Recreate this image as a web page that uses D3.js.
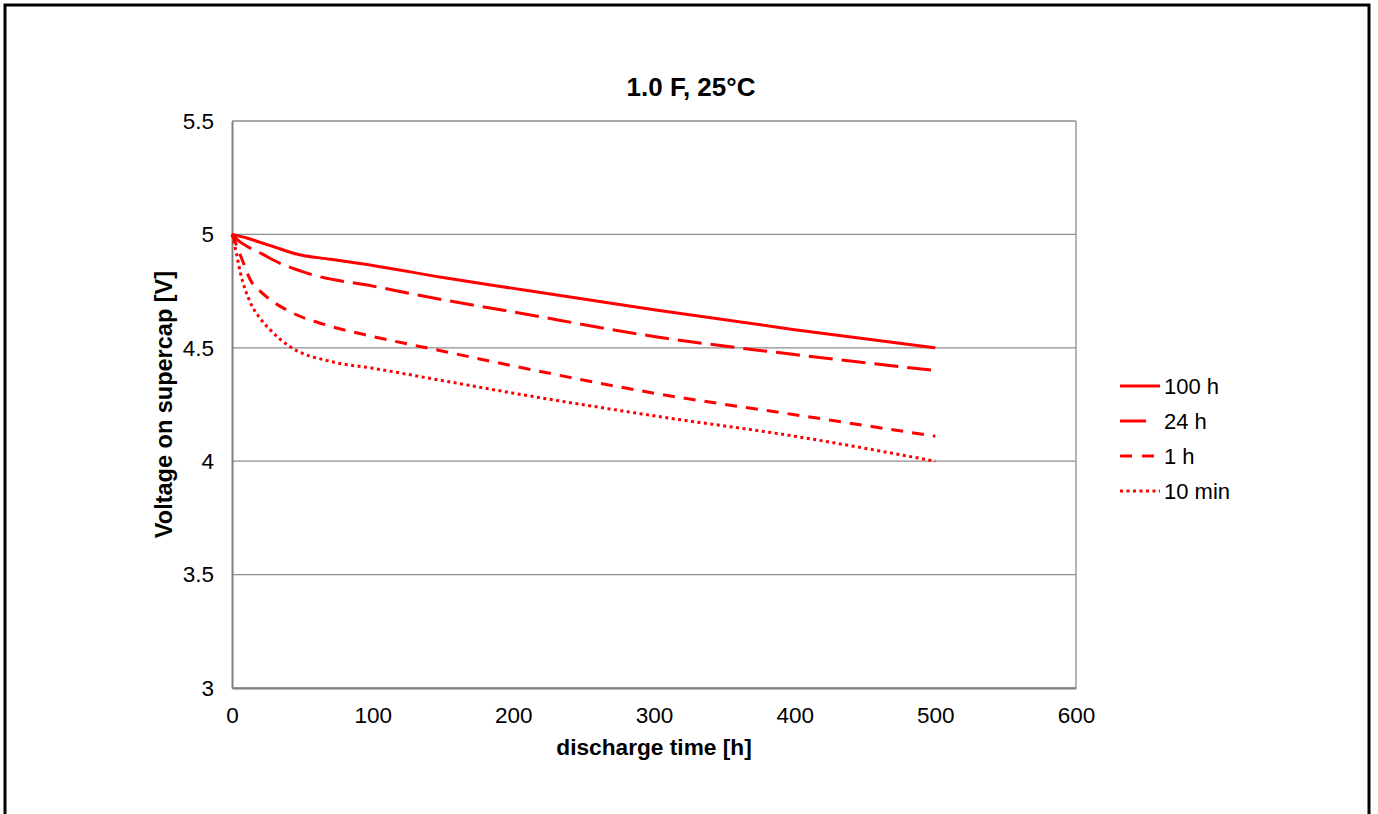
<!DOCTYPE html>
<html><head><meta charset="utf-8">
<script src="https://cdn.jsdelivr.net/npm/d3@7"></script>
<style>body{margin:0;background:#fff}svg{display:block}</style>
</head><body>
<script>
const title = "1.0 F, 25°C";
const xLabel = "discharge time [h]";
const yLabel = "Voltage on supercap [V]";
const xTicks = [0, 100, 200, 300, 400, 500, 600];
const yTicks = [3, 3.5, 4, 4.5, 5, 5.5];
const seriesNames = ["100 h", "24 h", "1 h", "10 min"];
const t100h = [0, 10, 20, 30, 45, 70, 100, 150, 200, 300, 400, 500];
const v100h = [5.0, 4.985, 4.965, 4.945, 4.915, 4.89, 4.863, 4.81, 4.762, 4.668, 4.58, 4.5];
const t24h = [0, 5, 10, 22, 30, 55, 100, 150, 200, 300, 400, 500];
const v24h = [5.0, 4.97, 4.95, 4.912, 4.885, 4.826, 4.772, 4.712, 4.658, 4.55, 4.47, 4.40];
const t1h = [0, 4, 8, 13, 20, 27, 41, 70, 100, 150, 200, 300, 400, 500];
const v1h = [5.0, 4.94, 4.876, 4.80, 4.75, 4.713, 4.66, 4.595, 4.55, 4.485, 4.42, 4.30, 4.205, 4.11];
const t10m = [0, 2, 6, 13, 20, 27, 41, 70, 100, 150, 200, 300, 400, 500];
const v10m = [5.0, 4.95, 4.83, 4.70, 4.63, 4.58, 4.506, 4.44, 4.41, 4.355, 4.30, 4.20, 4.11, 4.0];

const W = 1378, H = 814;
const svg = d3.select("body").append("svg").attr("width", W).attr("height", H);

// outer frame
svg.append("rect").attr("x", 5).attr("y", 5).attr("width", 1364).attr("height", 830)
  .attr("fill", "none").attr("stroke", "#000").attr("stroke-width", 3);

const x = d3.scaleLinear().domain([0, 600]).range([232, 1076]);
const y = d3.scaleLinear().domain([3, 5.5]).range([688, 121]);
const font = "Arial, 'Liberation Sans', sans-serif";

// gridlines
svg.append("g").selectAll("line").data(yTicks).join("line")
  .attr("x1", x(0)).attr("x2", x(600)).attr("y1", d => y(d)).attr("y2", d => y(d))
  .attr("stroke", "#8c8c8c").attr("stroke-width", 1.3);
// right border
svg.append("line").attr("x1", x(600)).attr("x2", x(600)).attr("y1", y(5.5)).attr("y2", y(3))
  .attr("stroke", "#8c8c8c").attr("stroke-width", 1.3);

// axes
const yAxis = svg.append("g").attr("transform", `translate(${x(0)},0)`)
  .call(d3.axisLeft(y).tickValues(yTicks).tickSize(0).tickPadding(18).tickFormat(d3.format("")));
const xAxis = svg.append("g").attr("transform", `translate(0,${y(3)})`)
  .call(d3.axisBottom(x).tickValues(xTicks).tickSize(0).tickPadding(19));
[xAxis, yAxis].forEach(a => {
  a.select(".domain").attr("stroke", "#808080").attr("stroke-width", 2);
  a.selectAll("text").attr("font-family", font).attr("font-size", 22.5).attr("fill", "#000");
});

// series
const series = [
  {t: t100h, v: v100h, dash: null},
  {t: t24h, v: v24h, dash: "24,9"},
  {t: t1h, v: v1h, dash: "12,9"},
  {t: t10m, v: v10m, dash: "3,3.5"}
];
const line = d3.line().x(d => x(d[0])).y(d => y(d[1])).curve(d3.curveMonotoneX);
series.forEach(s => {
  svg.append("path").datum(s.t.map((t, i) => [t, s.v[i]]))
    .attr("d", line).attr("fill", "none").attr("stroke", "#ff0000").attr("stroke-width", 3)
    .attr("stroke-dasharray", s.dash);
});

// legend
const lg = svg.append("g");
seriesNames.forEach((n, i) => {
  const ly = 386 + i * 35;
  lg.append("line").attr("x1", 1120).attr("x2", 1160).attr("y1", ly).attr("y2", ly)
    .attr("stroke", "#ff0000").attr("stroke-width", 3)
    .attr("stroke-dasharray", series[i].dash ? (i === 1 ? "26,14" : i === 2 ? "12,10" : "3,3.5") : null);
  lg.append("text").attr("x", 1164).attr("y", ly).attr("dy", "0.35em")
    .attr("font-family", font).attr("font-size", 22).text(n);
});

// titles
svg.append("text").attr("x", 691).attr("y", 87).attr("dy", "0.35em").attr("text-anchor", "middle")
  .attr("font-family", font).attr("font-size", 26).attr("font-weight", "bold").text(title);
svg.append("text").attr("x", 654).attr("y", 747).attr("dy", "0.35em").attr("text-anchor", "middle")
  .attr("font-family", font).attr("font-size", 22.7).attr("font-weight", "bold").text(xLabel);
svg.append("text").attr("transform", `translate(164,${(y(5.5) + y(3)) / 2}) rotate(-90)`)
  .attr("dy", "0.35em").attr("text-anchor", "middle")
  .attr("font-family", font).attr("font-size", 23.5).attr("font-weight", "bold").text(yLabel);
</script>
</body></html>
